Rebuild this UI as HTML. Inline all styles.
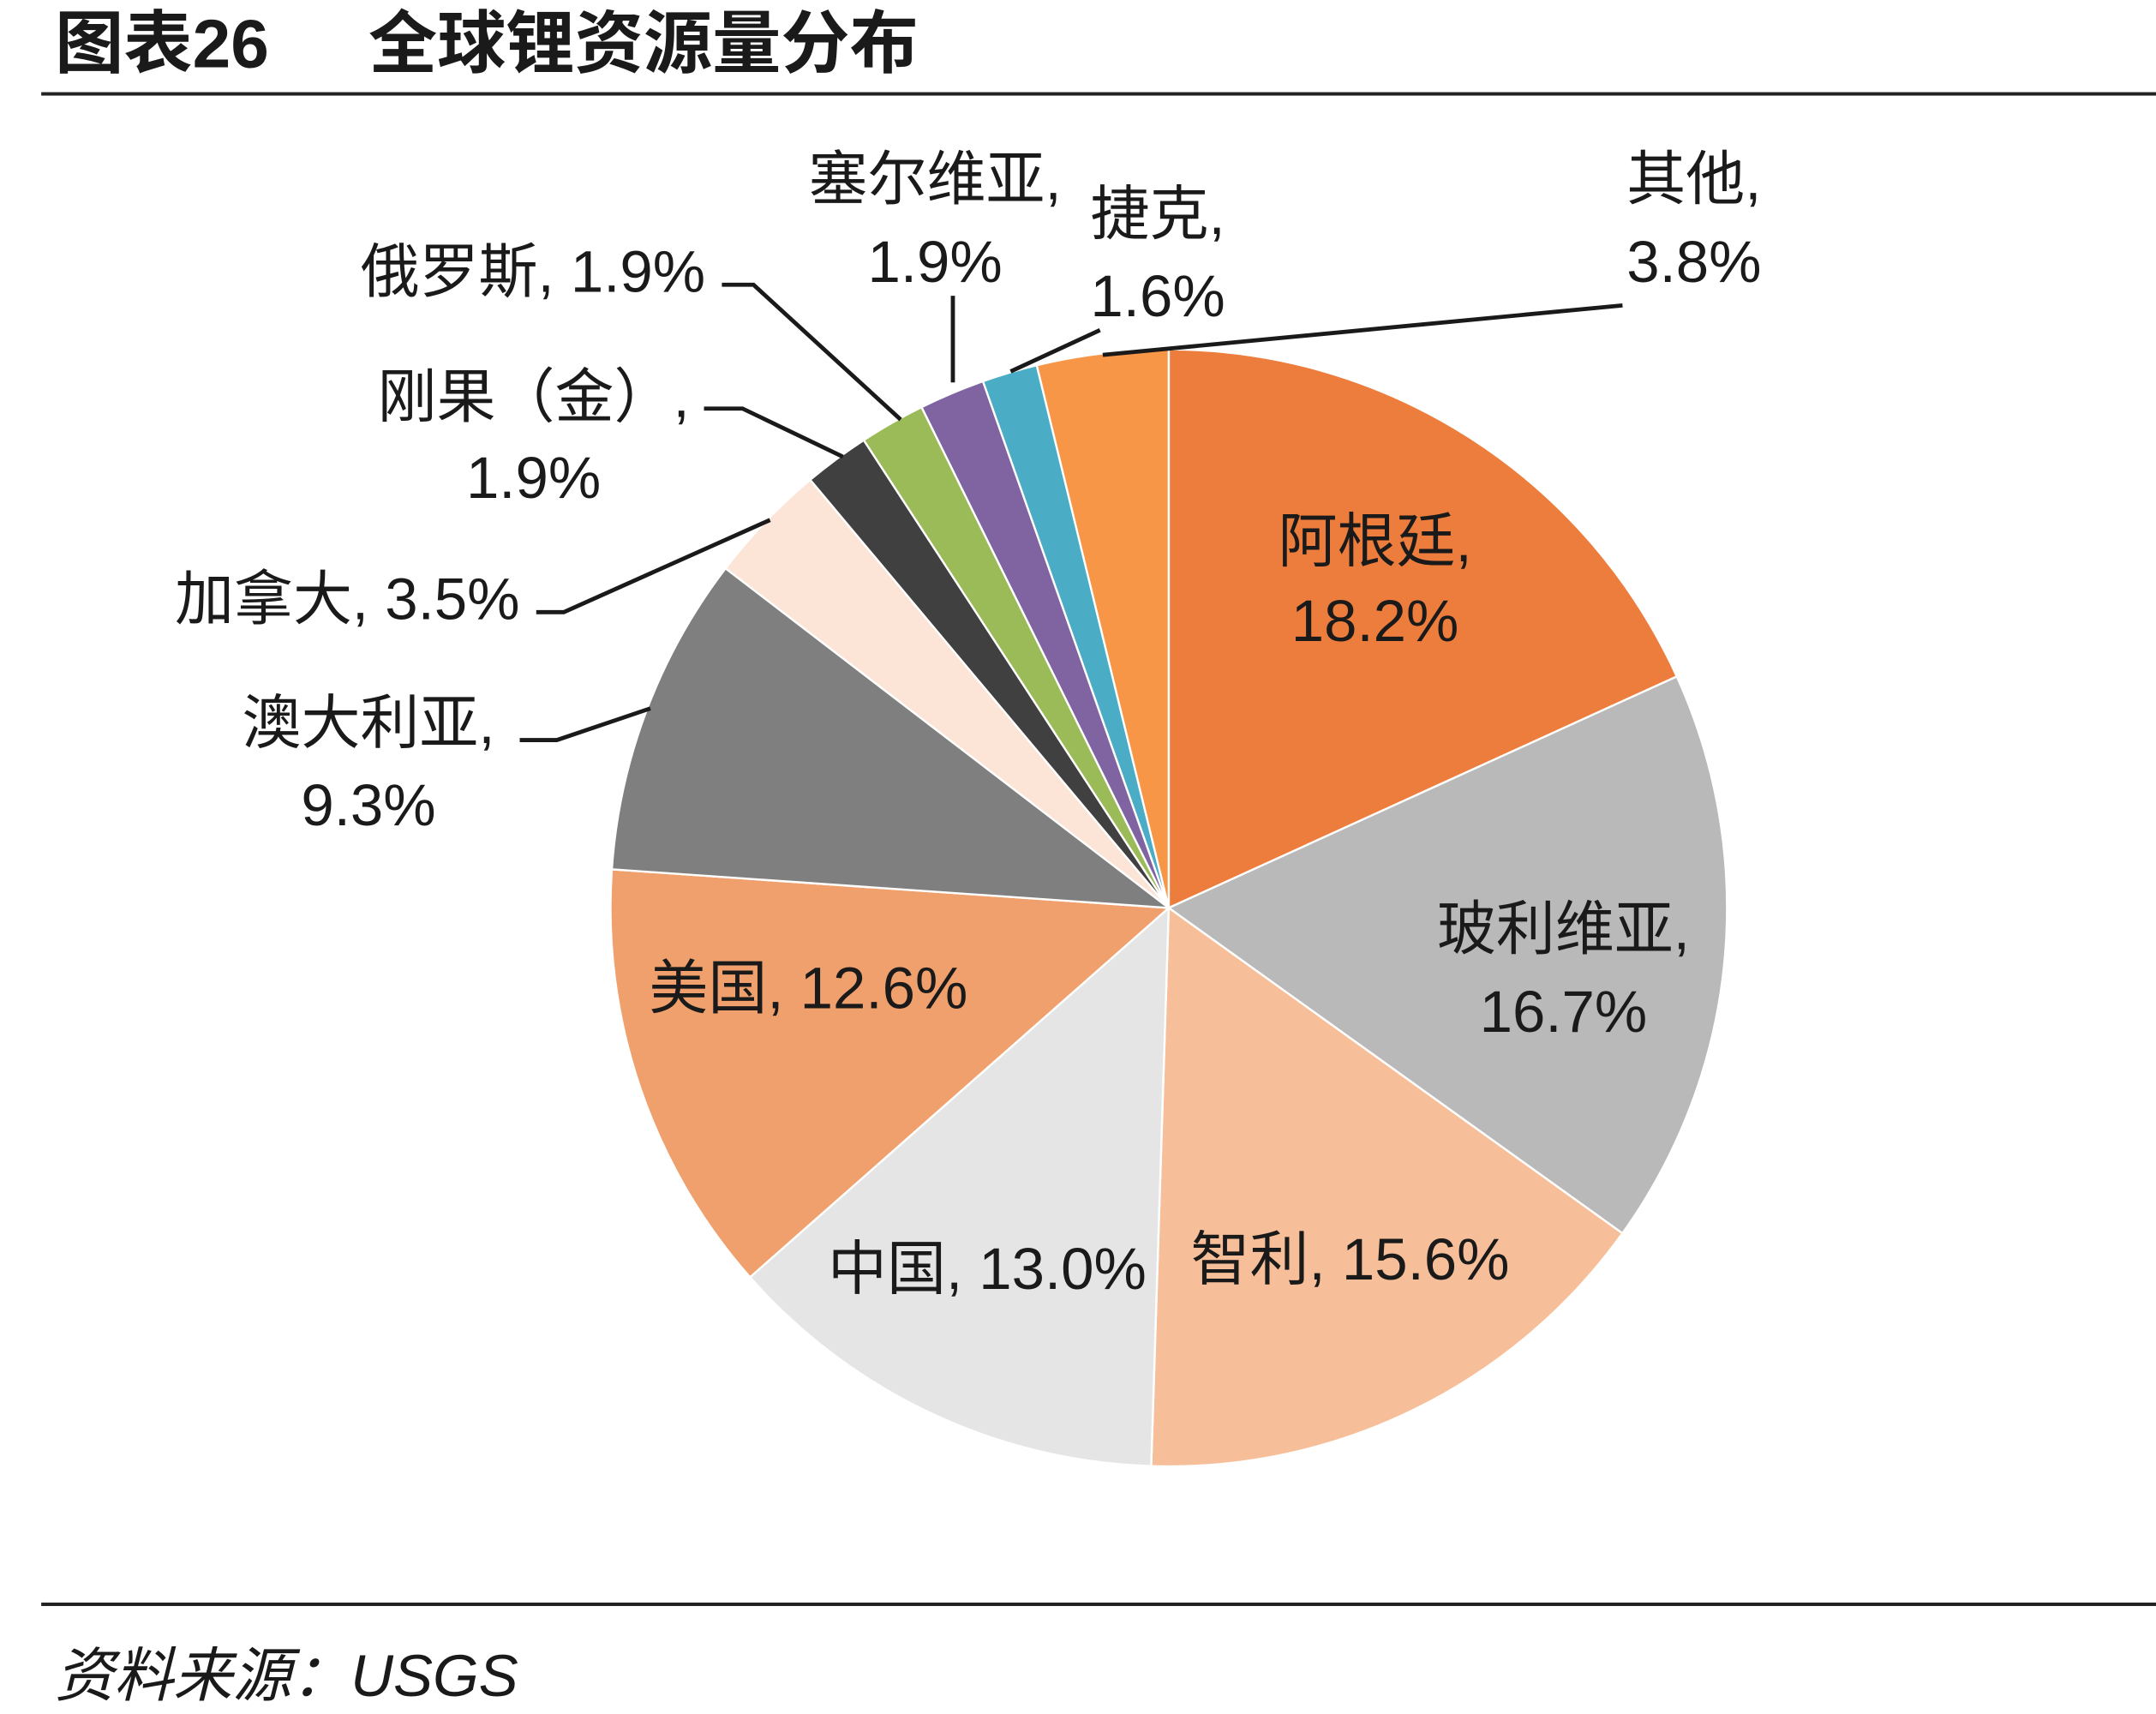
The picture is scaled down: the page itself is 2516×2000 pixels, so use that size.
<!DOCTYPE html>
<html><head><meta charset="utf-8">
<style>
html,body{margin:0;padding:0;background:#fff;}
svg{display:block;}
text{font-family:"Liberation Sans","Noto Sans CJK SC",sans-serif;fill:#1a1a1a;}
</style></head>
<body>
<svg id="chart" width="2516" height="2000" viewBox="0 0 1568 1246" preserveAspectRatio="none" xmlns="http://www.w3.org/2000/svg">
  <text x="40" y="49" font-size="50" font-weight="bold">图表26</text>
  <text x="268" y="49" font-size="50" font-weight="bold">全球锂资源量分布</text>
  <rect x="30" y="67" width="1538" height="2.5" fill="#222"/>
  <g id="slices"></g>
  <g id="leaders" stroke="#1a1a1a" stroke-width="3" fill="none"></g>
  <g id="labels"></g>
  <rect x="30" y="1165" width="1538" height="2.5" fill="#222"/>
  <text x="40" y="1233" font-size="43" font-style="italic">资料来源：USGS</text>
</svg>
<script>
const categories = ["阿根廷","玻利维亚","智利","中国","美国","澳大利亚","加拿大","刚果（金）","俄罗斯","塞尔维亚","捷克","其他"];
const shares = [18.2,16.7,15.6,13.0,12.6,9.3,3.5,1.9,1.9,1.9,1.6,3.8];
const colors = ["#ED7D3C","#B9B9B9","#F7BF99","#E5E5E5","#F0A06C","#7F7F7F","#FCE4D6","#404040","#9BBB59","#8064A2","#4BACC6","#F79646"];
const labelLayout = [
 ["middle",1000,408,466,"阿根廷,"],
 ["middle",1137,690,750,"玻利维亚,"],
 ["start",866,930,null,"智利, "],
 ["start",602,937,null,"中国, "],
 ["start",472,733,null,"美国, "],
 ["middle",268,540,600,"澳大利亚,"],
 ["end",378,450,null,"加拿大, "],
 ["middle",388,303,362,"刚果（金）,"],
 ["end",513,212,null,"俄罗斯, "],
 ["middle",680,145,205,"塞尔维亚,"],
 ["middle",842,170,230,"捷克,"],
 ["middle",1232,145,205,"其他,"]
];
const leaderPaths = [
 null,null,null,null,null,
 "M378,538 L405,538 L473,515",
 "M390,445 L410,445 L560,378",
 "M512,297 L540,297 L613,332",
 "M525,207 L548,207 L655,305",
 "M693,215 L693,278",
 "M800,240 L735,270",
 "M1180,222 L802,258"
];
const cx=850, cy=660, r=406;
const NS="http://www.w3.org/2000/svg";
const total = shares.reduce((a,b)=>a+b,0);
function angleOf(v){return v/total*2*Math.PI;}
function pt(a){return [cx+r*Math.sin(a), cy-r*Math.cos(a)];}
let acc=0;
const gS=document.getElementById('slices');
shares.forEach((v,i)=>{
  const a0=angleOf(acc), a1=angleOf(acc+v); acc+=v;
  const [x0,y0]=pt(a0),[x1,y1]=pt(a1);
  const large=(a1-a0)>Math.PI?1:0;
  const p=document.createElementNS(NS,'path');
  p.setAttribute('d',`M${cx},${cy} L${x0},${y0} A${r},${r} 0 ${large} 1 ${x1},${y1} Z`);
  p.setAttribute('fill',colors[i]);
  p.setAttribute('stroke','#fff');
  p.setAttribute('stroke-width','1.5');
  
  
  gS.appendChild(p);
});
const gL=document.getElementById('leaders');
leaderPaths.forEach((d,i)=>{
  if(!d) return;
  const p=document.createElementNS(NS,'path');
  p.setAttribute('d',d);
  
  
  gL.appendChild(p);
});
const gT=document.getElementById('labels');
labelLayout.forEach((l,i)=>{
  const pct=shares[i].toFixed(1)+"%";
  const t=document.createElementNS(NS,'text');
  t.setAttribute('x',l[1]); t.setAttribute('y',l[2]);
  t.setAttribute('text-anchor',l[0]);
  t.setAttribute('font-size','43');
  t.textContent = l[3]===null ? l[4]+pct : l[4];
  
  
  gT.appendChild(t);
  if(l[3]!==null){
    const t2=document.createElementNS(NS,'text');
    t2.setAttribute('x',l[1]); t2.setAttribute('y',l[3]);
    t2.setAttribute('text-anchor',l[0]);
    t2.setAttribute('font-size','43');
    t2.textContent=pct;
    
    
    gT.appendChild(t2);
  }
});
</script>
</body></html>
